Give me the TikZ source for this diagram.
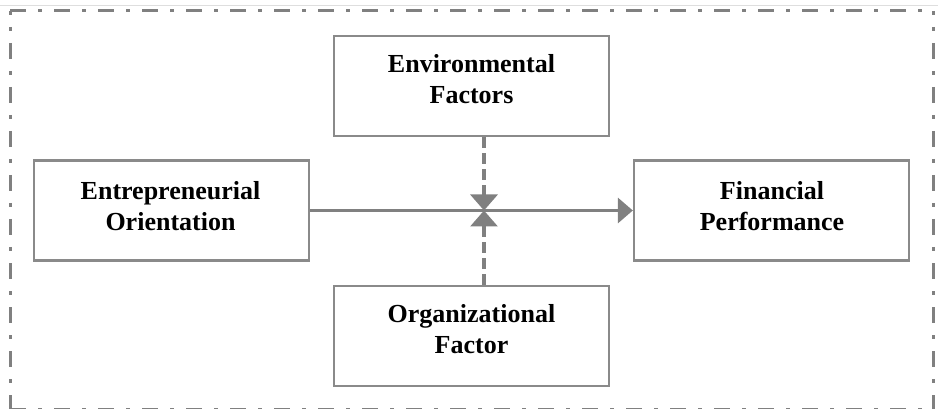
\documentclass[tikz,border=0pt]{standalone}
\usepackage{fontspec}
\setmainfont{Liberation Serif}
\usetikzlibrary{arrows.meta}
\definecolor{lg}{RGB}{128,128,128}
\definecolor{bg}{RGB}{138,138,138}
\definecolor{topline}{RGB}{222,222,222}
\begin{document}
\begin{tikzpicture}[x=1pt,y=-1pt,
 box/.style={draw=bg, line width=2.3pt, minimum width=275pt, minimum height=100pt, inner sep=0pt, fill=white},
 txt/.style={font=\bfseries\fontsize{26}{31}\selectfont, align=center, inner sep=0pt, text=black},
 frameline/.style={draw=lg, line width=3pt, dash pattern=on 16pt off 12pt on 4pt off 12pt},
 mainarrow/.style={draw=lg, line width=3.2pt, -{Triangle[length=15pt,width=25pt]}},
 modarrow/.style={draw=lg, line width=3.2pt, dash pattern=on 11pt off 5pt, -{Triangle[length=16pt,width=27pt]}}]
\useasboundingbox (0,0) rectangle (938,409);
% outer frame
\draw[topline, line width=1.5pt] (0,5.5) -- (938,5.5);
\coordinate (tl) at (10,11);
\coordinate (tr) at (933,11);
\coordinate (bl) at (10,409.6);
\coordinate (br) at (933,409.6);
\draw[frameline] (tl) -- (tr);
\draw[frameline] (bl) -- (br);
\draw[frameline, dash phase=12pt] (tl) -- (bl);
\draw[frameline, dash phase=12pt] (tr) -- (br);
% boxes
\node[box] (env) at (471.5,86) {};
\node[box] (ent) at (171.5,210.5) {};
\node[box] (fin) at (771.5,210.5) {};
\node[box] (org) at (471.5,336) {};
% texts
\node[txt] (envt) at (471.5,79) {Environmental\\Factors};
\node[txt] (entt) at (170.5,206.5) {Entrepreneurial\\Orientation};
\node[txt] (fint) at (772,206.5) {Financial\\Performance};
\node[txt] (orgt) at (471.5,329) {Organizational\\Factor};
% connectors
\coordinate (m) at (484,210.5);
\draw[mainarrow] (ent.east) -- (fin.west);
\draw[modarrow] (env.south -| m) -- (m);
\draw[modarrow] (org.north -| m) -- (m);
\end{tikzpicture}
\end{document}
